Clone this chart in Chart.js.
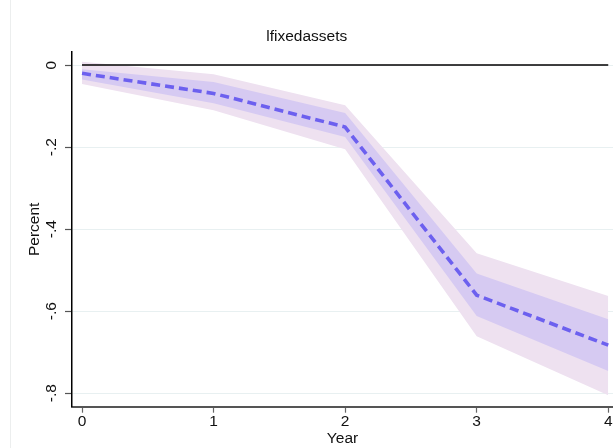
<!DOCTYPE html>
<html>
<head>
<meta charset="utf-8">
<script src="https://cdn.jsdelivr.net/npm/chart.js@4/dist/chart.umd.min.js"></script>
<style>
    html, body { margin: 0; padding: 0; background: #fff; overflow: hidden; }
    #wrap { position: relative; width: 613px; height: 448px; overflow: hidden; }
    #edge { position: absolute; left: 10px; top: 0; width: 1px; height: 448px; background: #eceeee; }
    #grafico { position: absolute; left: 0; top: 0; }
</style>
</head>
<body>
<div id="wrap">
    <div id="edge"></div>
    <canvas id="grafico" width="640" height="448"></canvas>
</div>
<script>
// Resposta ao impulso por ano, com bandas de confiança
const anos = [0, 1, 2, 3, 4];
const estimativa = [-0.020, -0.069, -0.151, -0.561, -0.683];
const internoSup = [-0.010, -0.041, -0.117, -0.508, -0.620];
const internoInf = [-0.035, -0.093, -0.175, -0.612, -0.746];
const externoSup = [0.008, -0.022, -0.098, -0.459, -0.563];
const externoInf = [-0.046, -0.110, -0.205, -0.661, -0.805];
const linhaZero = [0, 0, 0, 0, 0];
const yTicks = [0, -0.2, -0.4, -0.6, -0.8];
const yTickLabels = ['0', '-.2', '-.4', '-.6', '-.8'];
const xTicks = [0, 1, 2, 3, 4];
const xTickLabels = ['0', '1', '2', '3', '4'];

const pontos = valores => anos.map((a, i) => ({ x: a, y: valores[i] }));
const fonte = { family: 'Liberation Sans, Arial, sans-serif', size: 15.5 };

document.addEventListener('DOMContentLoaded', () => {
    const canvas = document.getElementById('grafico');
    new Chart(canvas, {
        type: 'line',
        data: {
            datasets: [
                {
                    label: 'estimativa',
                    data: pontos(estimativa),
                    borderColor: '#6c60ef',
                    borderWidth: 3.6,
                    borderDash: [9, 5],
                    pointRadius: 0,
                    fill: false,
                },
                {
                    label: 'zero',
                    data: pontos(linhaZero),
                    borderColor: '#000',
                    borderWidth: 1.5,
                    pointRadius: 0,
                    fill: false,
                },
                {
                    label: 'ic interno sup',
                    data: pontos(internoSup),
                    borderWidth: 0,
                    pointRadius: 0,
                    backgroundColor: '#d6caf2',
                    fill: '+1',
                },
                {
                    label: 'ic interno inf',
                    data: pontos(internoInf),
                    borderWidth: 0,
                    pointRadius: 0,
                    fill: false,
                },
                {
                    label: 'ic externo sup',
                    data: pontos(externoSup),
                    borderWidth: 0,
                    pointRadius: 0,
                    backgroundColor: '#eee1f0',
                    fill: '+1',
                },
                {
                    label: 'ic externo inf',
                    data: pontos(externoInf),
                    borderWidth: 0,
                    pointRadius: 0,
                    fill: false,
                },
            ]
        },
        options: {
            responsive: false,
            animation: false,
            layout: { padding: { left: 0, right: 26.5, top: 0, bottom: 0 } },
            plugins: {
                legend: { display: false },
                tooltip: { enabled: false },
                title: {
                    display: true,
                    text: 'lfixedassets',
                    color: '#111',
                    font: { ...fonte, weight: 'normal' },
                    padding: { top: 27.7, bottom: 5.7 },
                },
            },
            scales: {
                x: {
                    type: 'linear',
                    min: -0.08,
                    max: 4.04,
                    afterBuildTicks: s => { s.ticks = xTicks.map(v => ({ value: v })); },
                    afterFit: s => { s.height = 41.3; },
                    ticks: {
                        color: '#111',
                        font: fonte,
                        padding: 0,
                        callback: v => xTickLabels[xTicks.indexOf(v)],
                    },
                    grid: { drawOnChartArea: false, tickLength: 6, tickColor: '#666', tickWidth: 1.2 },
                    border: { color: '#555', width: 2 },
                    title: { display: true, text: 'Year', color: '#111', font: fonte, padding: { top: 0, bottom: 0 } },
                },
                y: {
                    type: 'linear',
                    min: -0.833,
                    max: 0.032,
                    afterBuildTicks: s => { s.ticks = yTicks.map(v => ({ value: v })); },
                    afterFit: s => { s.width = 71.5; },
                    ticks: {
                        color: '#111',
                        font: fonte,
                        padding: 4.5,
                        minRotation: 90,
                        maxRotation: 90,
                        crossAlign: 'center',
                        callback: v => yTickLabels[yTicks.indexOf(v)],
                    },
                    grid: { color: '#e8f0f1', lineWidth: 1, tickLength: 6.5, tickColor: '#555', tickWidth: 1.2 },
                    border: { color: '#000', width: 1.5 },
                    title: { display: true, text: 'Percent', color: '#111', font: fonte, padding: { top: 25.7, bottom: 0 } },
                },
            },
        },
    });
});
</script>
</body>
</html>
